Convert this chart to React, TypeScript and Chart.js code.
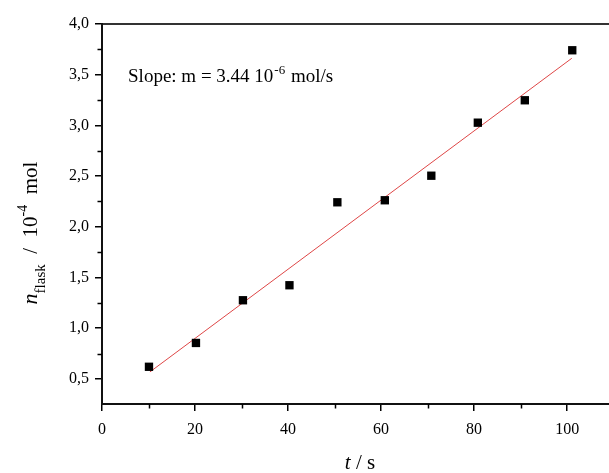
import React, { useEffect, useRef } from "react";
import { Chart, registerables } from "chart.js";

Chart.register(...registerables);

// ---- data ----
const timeS = [10.1, 20.2, 30.3, 40.3, 50.6, 60.8, 70.8, 80.8, 90.9, 101.1];
const nFlask = [0.62, 0.855, 1.276, 1.424, 2.242, 2.262, 2.504, 3.027, 3.248, 3.741];
const fitTime = [10.3, 101.0];
const fitN = [0.569, 3.662];
const xTicks = [0, 20, 40, 60, 80, 100];
const xMinorTicks = [10, 30, 50, 70, 90];
const yTicks = [0.5, 1.0, 1.5, 2.0, 2.5, 3.0, 3.5, 4.0];
const yMinorTicks = [0.75, 1.25, 1.75, 2.25, 2.75, 3.25, 3.75];
const slopeMain = "Slope: m = 3.44 10";
const slopeExp = "-6";
const slopeUnit = " mol/s";
const slopeAnchor = [5.6, 3.43];
const xRange = [0, 109];
const yRange = [0.253, 4.0];

const SERIF = '"Liberation Serif", "DejaVu Serif", serif';

const decorPlugin = {
  id: "decor",
  afterDraw(chart: any) {
    const ctx = chart.ctx as CanvasRenderingContext2D;
    const xs = chart.scales.x;
    const ys = chart.scales.y;
    const area = chart.chartArea;
    ctx.save();
    // minor ticks
    ctx.strokeStyle = "#000";
    ctx.lineWidth = 1.5;
    ctx.beginPath();
    xMinorTicks.forEach((v) => {
      const px = Math.round(xs.getPixelForValue(v)) + 0.5;
      ctx.moveTo(px, area.bottom);
      ctx.lineTo(px, area.bottom + 4.5);
    });
    yMinorTicks.forEach((v) => {
      const py = Math.round(ys.getPixelForValue(v)) + 0.5;
      ctx.moveTo(area.left, py);
      ctx.lineTo(area.left - 4.5, py);
    });
    ctx.stroke();

    ctx.fillStyle = "#000";
    ctx.textBaseline = "alphabetic";
    ctx.textAlign = "left";

    // slope annotation
    const ax = xs.getPixelForValue(slopeAnchor[0]);
    const ay = ys.getPixelForValue(slopeAnchor[1]);
    ctx.font = `19px ${SERIF}`;
    ctx.fillText(slopeMain, ax, ay);
    let w = ctx.measureText(slopeMain).width + 1;
    ctx.font = `13px ${SERIF}`;
    ctx.fillText(slopeExp, ax + w, ay - 8);
    w += ctx.measureText(slopeExp).width + 1;
    ctx.font = `19px ${SERIF}`;
    ctx.fillText(slopeUnit, ax + w, ay);

    // x title: t / s
    const xParts: [string, string][] = [
      ["t", `italic 21px ${SERIF}`],
      [" / s", `21px ${SERIF}`],
    ];
    let total = 0;
    xParts.forEach(([t, f]) => {
      ctx.font = f;
      total += ctx.measureText(t).width;
    });
    let cx = 360 - total / 2;
    xParts.forEach(([t, f]) => {
      ctx.font = f;
      ctx.fillText(t, cx, 469);
      cx += ctx.measureText(t).width;
    });

    // y title: n_flask / 10^-4 mol (rotated)
    const yParts: [string, string, number][] = [
      ["n", `italic 22px ${SERIF}`, 0],
      ["flask", `15px ${SERIF}`, 8],
      ["  /  10", `21px ${SERIF}`, 0],
      ["-4", `14px ${SERIF}`, -10],
      ["  mol", `21px ${SERIF}`, 0],
    ];
    let ytot = 0;
    yParts.forEach(([t, f]) => {
      ctx.font = f;
      ytot += ctx.measureText(t).width;
    });
    ctx.translate(37, 233);
    ctx.rotate(-Math.PI / 2);
    let lx = -ytot / 2;
    yParts.forEach(([t, f, dy]) => {
      ctx.font = f;
      ctx.fillText(t, lx, dy);
      lx += ctx.measureText(t).width;
    });
    ctx.restore();
  },
};

export default function App() {
  const ref = useRef<HTMLCanvasElement | null>(null);
  useEffect(() => {
    if (!ref.current) return;
    const tickFont = { family: SERIF, size: 16 };
    const chart = new Chart(ref.current, {
      type: "scatter",
      data: {
        datasets: [
          {
            label: "n",
            data: timeS.map((t, i) => ({ x: t, y: nFlask[i] })),
            pointStyle: "rect",
            pointRadius: 5.9,
            backgroundColor: "#000",
            borderColor: "#000",
            borderWidth: 0,
            showLine: false,
          },
          {
            label: "fit",
            type: "line",
            data: fitTime.map((t, i) => ({ x: t, y: fitN[i] })),
            borderColor: "rgb(222, 70, 70)",
            borderWidth: 1,
            pointRadius: 0,
            fill: false,
          } as any,
        ],
      },
      options: {
        responsive: false,
        animation: false,
        devicePixelRatio: 1,
        layout: { padding: 0, autoPadding: false },
        plugins: { legend: { display: false }, tooltip: { enabled: false } },
        scales: {
          x: {
            type: "linear",
            position: "bottom",
            min: xRange[0],
            max: xRange[1],
            afterBuildTicks: (s: any) => {
              s.ticks = xTicks.map((v) => ({ value: v }));
            },
            afterFit: (s: any) => {
              s.height = 69;
              s.paddingLeft = 0;
              s.paddingRight = 0;
            },
            grid: {
              drawOnChartArea: false,
              drawTicks: true,
              tickLength: 7,
              color: "#000",
              lineWidth: 1.5,
            },
            border: { display: true, color: "#111", width: 2 },
            ticks: {
              color: "#000",
              font: tickFont,
              padding: 9,
              maxRotation: 0,
              autoSkip: false,
              callback: (v: any) => String(v),
            },
          },
          x2: {
            type: "linear",
            position: "top",
            min: xRange[0],
            max: xRange[1],
            afterFit: (s: any) => {
              s.height = 24;
              s.paddingLeft = 0;
              s.paddingRight = 0;
            },
            grid: { drawOnChartArea: false, drawTicks: false },
            border: { display: true, color: "#333", width: 2 },
            ticks: { display: false },
          },
          y: {
            type: "linear",
            position: "left",
            min: yRange[0],
            max: yRange[1],
            afterBuildTicks: (s: any) => {
              s.ticks = yTicks.map((v) => ({ value: v }));
            },
            afterFit: (s: any) => {
              s.width = 102;
            },
            grid: {
              drawOnChartArea: false,
              drawTicks: true,
              tickLength: 7,
              color: "#000",
              lineWidth: 1.5,
            },
            border: { display: true, color: "#111", width: 2 },
            ticks: {
              color: "#000",
              font: tickFont,
              padding: 6,
              autoSkip: false,
              callback: (v: any) => Number(v).toFixed(1).replace(".", ","),
            },
          },
        },
      },
      plugins: [decorPlugin],
    });
    return () => chart.destroy();
  }, []);
  return (
    <div
      style={{
        position: "fixed",
        left: 0,
        top: 0,
        width: 609,
        height: 473,
        background: "#fff",
        overflow: "hidden",
      }}
    >
      <canvas ref={ref} width={609} height={473} style={{ display: "block" }} />
    </div>
  );
}
